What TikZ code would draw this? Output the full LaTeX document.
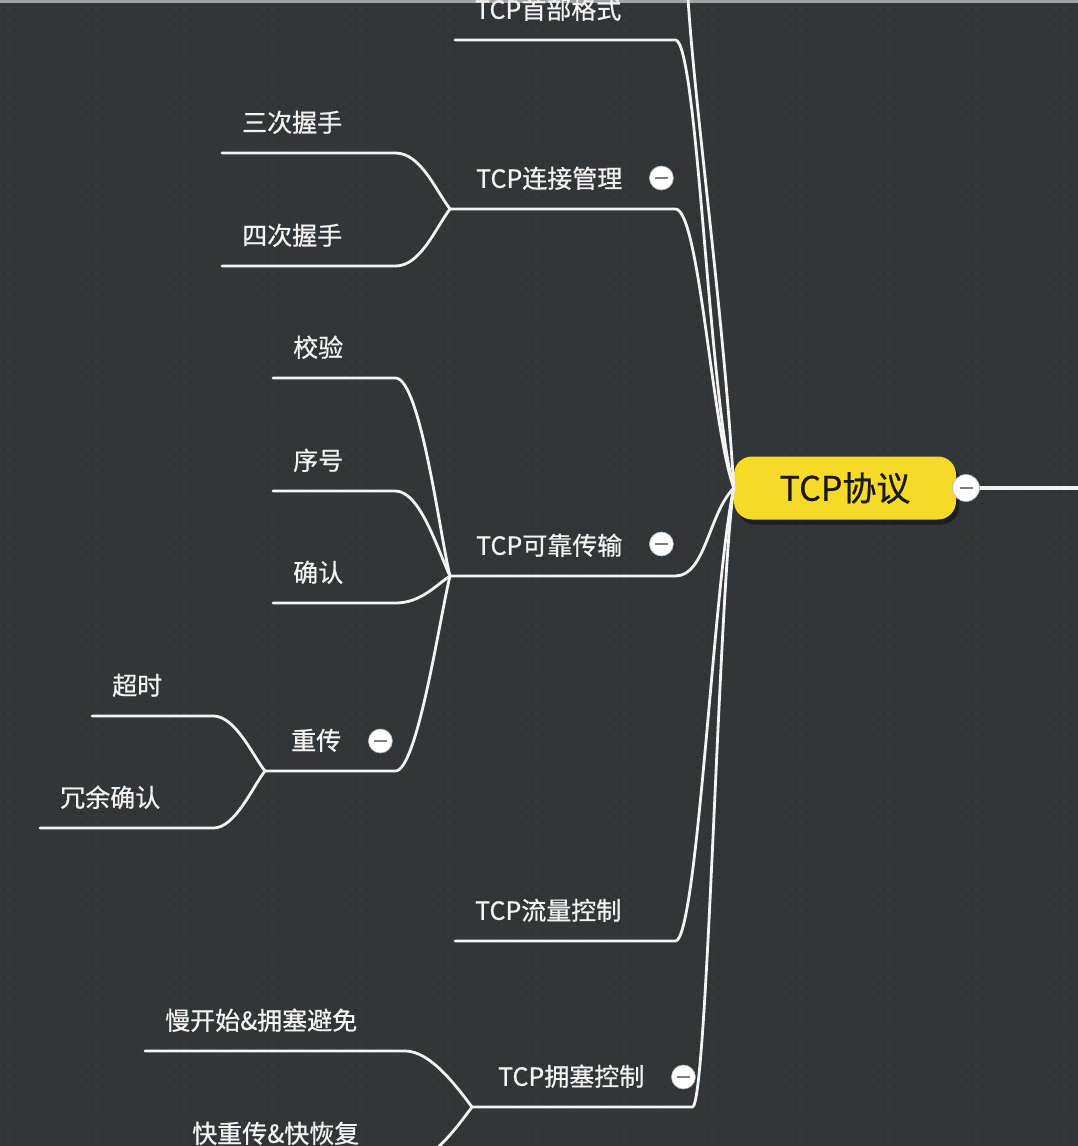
\documentclass[tikz,border=0pt]{standalone}
\usepackage{fontspec}
\newfontfamily\cjk[FakeBold=0.7]{Noto Sans CJK SC}
\usepackage{tikz}
\usetikzlibrary{calc}
\usetikzlibrary{shadows}
\usetikzlibrary{patterns.meta}
\usepackage{color}
\definecolor{slate}{RGB}{50, 54, 57}
\definecolor{slatedot}{RGB}{36, 39, 42}
\definecolor{sunflower}{RGB}{247, 217, 40}
\definecolor{chalk}{RGB}{243, 243, 243}
\definecolor{ash}{RGB}{125, 125, 125}

\tikzdeclarepattern{
  name=griddots,
  type=uncolored,
  bottom left={(0pt,0pt)},
  top right={(11pt,11pt)},
  tile size={(11pt,11pt)},
  code={\fill (5.5pt,5.5pt) circle (0.9pt);}
}

\tikzset{
  topic/.style={font=\cjk\fontsize{25}{30}\selectfont, text=chalk, anchor=south west, align=left,
                inner xsep=20pt, inner ysep=21pt, text height=20pt, text depth=0pt},
  hub/.style={topic, inner xsep=26pt},
  branch/.style={draw=chalk, line width=2.8pt, line cap=round},
  fold/.style={circle, fill=white, draw=ash!60, line width=0.6pt, minimum size=24pt, inner sep=0pt,
               path picture={\draw[ash, line width=2.2pt]
                 ([xshift=-6.5pt]path picture bounding box.center) -- ([xshift=6.5pt]path picture bounding box.center);}},
  rootbox/.style={rectangle, rounded corners=18pt, fill=sunflower, text=black!90,
                  minimum width=222pt, minimum height=63pt, font=\cjk\fontsize{34}{40}\selectfont,
                  drop shadow={shadow xshift=3pt, shadow yshift=-5pt, fill=black, opacity=0.45}}
}

\begin{document}
\begin{tikzpicture}[x=1pt, y=-1pt]
            \useasboundingbox                                   (0,0) rectangle (1078,1146);
            \fill[slate]                                        (0,0) rectangle (1078,1146);
            \fill[pattern=griddots, pattern color=slatedot]     (0,0) rectangle (1078,1146);
            \fill[ash!70]                                       (0,0) rectangle (1078,3);
            \clip                                               (0,0) rectangle (1078,1146);

            \node[rootbox]                    (root)       at (845, 488) {TCP协议};
            \node[topic, text width=180pt]    (shoubu)     at (455,  40) {TCP首部格式};
            \node[hub,   text width=173pt]    (lianjie)    at (450, 209) {TCP连接管理};
            \node[hub,   text width=173pt]    (kekao)      at (450, 576) {TCP可靠传输};
            \node[topic, text width=180pt]    (liuliang)   at (455, 941) {TCP流量控制};
            \node[hub,   text width=168pt]    (yongsai)    at (472,1107) {TCP拥塞控制};
            \node[topic, text width=133pt]    (sanci)      at (222, 153) {三次握手};
            \node[topic, text width=133pt]    (sici)       at (222, 266) {四次握手};
            \node[topic, text width=82pt]     (jiaoyan)    at (273, 378) {校验};
            \node[topic, text width=82pt]     (xuhao)      at (273, 491) {序号};
            \node[topic, text width=82pt]     (queren)     at (273, 603) {确认};
            \node[hub,   text width=78pt]     (chongchuan) at (265, 771) {重传};
            \node[topic, text width=81pt]     (chaoshi)    at ( 92, 716) {超时};
            \node[topic, text width=133pt]    (rongyu)     at ( 40, 828) {冗余确认};
            \node[topic, text width=220pt]    (mankaishi)  at (145,1051) {慢开始\&拥塞避免};
            \node[topic, text width=193pt]    (kuaichong)  at (172,1164) {快重传\&快恢复};
            \coordinate                       (offtop)     at (686, -40);
            \coordinate                       (offright)   at (1090,488);

            \draw[branch] (root.west) .. controls +(-12,-200) and +(4,120) .. (offtop);
            \draw[branch] (root.west) .. controls +(-25,-90)  and +(22,0)  .. (shoubu.south east)   -- (shoubu.south west);
            \draw[branch] (root.west) .. controls +(-22,-60)  and +(24,0)  .. (lianjie.south east)  -- (lianjie.south west);
            \draw[branch] (root.west) .. controls +(-25,25)   and +(30,0)  .. (kekao.south east)    -- (kekao.south west);
            \draw[branch] (root.west) .. controls +(-20,90)   and +(22,0)  .. (liuliang.south east) -- (liuliang.south west);
            \draw[branch] (root.west) .. controls +(-15,100)  and +(15,0)  .. (yongsai.south east)  -- (yongsai.south west);

            \draw[branch] (lianjie.south west)    .. controls +(-15,-20) and +(25,0) .. (sanci.south east)      -- (sanci.south west);
            \draw[branch] (lianjie.south west)    .. controls +(-15,20)  and +(25,0) .. (sici.south east)       -- (sici.south west);
            \draw[branch] (kekao.south west)      .. controls +(-10,-40) and +(25,0) .. (jiaoyan.south east)    -- (jiaoyan.south west);
            \draw[branch] (kekao.south west)      .. controls +(-12,-25) and +(25,0) .. (xuhao.south east)      -- (xuhao.south west);
            \draw[branch] (kekao.south west)      .. controls +(-15,10)  and +(25,0) .. (queren.south east)     -- (queren.south west);
            \draw[branch] (kekao.south west)      .. controls +(-10,40)  and +(22,0) .. (chongchuan.south east) -- (chongchuan.south west);
            \draw[branch] (chongchuan.south west) .. controls +(-12,-15) and +(22,0) .. (chaoshi.south east)    -- (chaoshi.south west);
            \draw[branch] (chongchuan.south west) .. controls +(-12,15)  and +(22,0) .. (rongyu.south east)     -- (rongyu.south west);
            \draw[branch] (yongsai.south west)    .. controls +(-15,-20) and +(25,0) .. (mankaishi.south east)  -- (mankaishi.south west);
            \draw[branch] (yongsai.south west)    .. controls +(-15,20)  and +(25,0) .. (kuaichong.south east)  -- (kuaichong.south west);
            \draw[branch, line width=4.5pt] (root.east) -- (offright);

            \node[fold, minimum size=27pt]    (root-f)       at (966,488) {};
            \node[fold] (lianjie-f)    at ([xshift=-14pt, yshift=31pt]lianjie.south east)    {};
            \node[fold] (kekao-f)      at ([xshift=-14pt, yshift=32pt]kekao.south east)      {};
            \node[fold] (chongchuan-f) at ([xshift=-15pt, yshift=30pt]chongchuan.south east) {};
            \node[fold] (yongsai-f)    at ([xshift=-9pt,  yshift=30pt]yongsai.south east)    {};
        \end{tikzpicture}
\end{document}
